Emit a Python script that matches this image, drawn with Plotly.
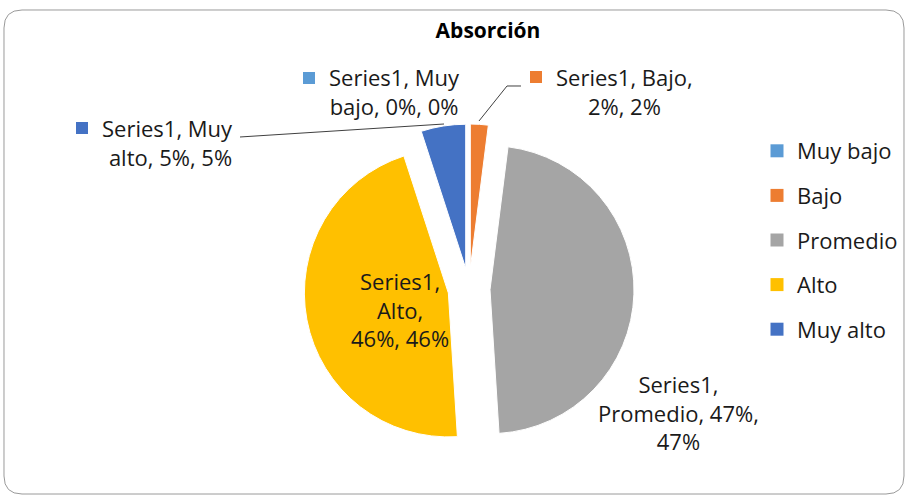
import plotly.graph_objects as go

categories = ["Muy bajo", "Bajo", "Promedio", "Alto", "Muy alto"]
values = [0, 2, 47, 46, 5]
colors = ["#5B9BD5", "#ED7D31", "#A5A5A5", "#FFC000", "#4472C4"]
series_name = "Series1"
chart_title = "Absorción"

W, H = 907, 498
FONT = "Open Sans"
TXT = "#1a1a1a"
FS = 22


def px(x):
    return x / W


def py(y):
    return 1 - y / H


total = sum(values)
pct = [round(v / total * 100) for v in values]

fig = go.Figure()
fig.add_trace(go.Pie(
    labels=categories, values=values,
    marker=dict(colors=colors, line=dict(color="white", width=1)),
    sort=False, direction="clockwise", rotation=0,
    pull=[0.146] * len(values), textinfo="none",
    hoverinfo="label+percent", showlegend=False,
    domain=dict(x=[px(304), px(634)], y=[py(454), py(124)]),
))

# legend via proxy traces (to control spacing)
for c, col in zip(categories, colors):
    fig.add_trace(go.Scatter(
        x=[None], y=[None], mode="markers", name=c, legendgroup=c,
        marker=dict(symbol="square", size=13, color=col),
    ))

s = series_name
labels_txt = [
    f"{s}, Muy<br>bajo, {values[0]}%, {pct[0]}%",
    f"{s}, Bajo,<br>{values[1]}%, {pct[1]}%",
    f"{s},<br>Promedio, {values[2]}%,<br>{pct[2]}%",
    f"{s},<br>Alto,<br>{values[3]}%, {pct[3]}%",
    f"{s}, Muy<br>alto, {values[4]}%, {pct[4]}%",
]
label_pos = [  # (x, y, xanchor, align)
    (394, 92, "center", "center"),
    (624, 92, "center", "center"),
    (678, 412, "center", "center"),
    (400, 309, "center", "center"),
    (235, 142, "right", "right"),
]
annotations = []
for t, (x, y, xa, al) in zip(labels_txt, label_pos):
    annotations.append(dict(
        x=px(x), y=py(y), xref="paper", yref="paper", text=t, showarrow=False,
        xanchor=xa, yanchor="middle", align=al,
        font=dict(family=FONT, size=FS, color=TXT),
    ))

# legend key squares next to outside labels
key_boxes = [(303, 72, 0), (530, 71, 1), (76, 122, 4)]
shapes = []
for x, y, i in key_boxes:
    shapes.append(dict(type="rect", xref="paper", yref="paper",
                       x0=px(x), x1=px(x + 12), y0=py(y), y1=py(y + 12),
                       fillcolor=colors[i], line=dict(width=0)))

# leader lines
leaders = [
    [(521, 86), (507, 86), (479, 121)],
    [(240, 137), (444, 124)],
]
for pts in leaders:
    d = "M " + " L ".join(f"{px(a):.5f},{py(b):.5f}" for a, b in pts)
    shapes.append(dict(type="path", xref="paper", yref="paper", path=d,
                       line=dict(color="#404040", width=1)))

# rounded chart border
x0, y0, x1, y1, r = 4, 10, 904, 494, 18
def P(a, b):
    return f"{px(a):.5f},{py(b):.5f}"
border = (f"M {P(x0 + r, y0)} L {P(x1 - r, y0)} Q {P(x1, y0)} {P(x1, y0 + r)} "
          f"L {P(x1, y1 - r)} Q {P(x1, y1)} {P(x1 - r, y1)} L {P(x0 + r, y1)} "
          f"Q {P(x0, y1)} {P(x0, y1 - r)} L {P(x0, y0 + r)} Q {P(x0, y0)} {P(x0 + r, y0)} Z")
shapes.append(dict(type="path", xref="paper", yref="paper", path=border,
                   line=dict(color="#9a9a9a", width=1), layer="below"))

fig.update_layout(
    width=W, height=H,
    margin=dict(l=0, r=0, t=0, b=0),
    paper_bgcolor="white", plot_bgcolor="white",
    title=dict(text=f"<b>{chart_title}</b>", x=px(488), y=py(31),
               xanchor="center", yanchor="middle",
               font=dict(family=FONT, size=21, color="#000000")),
    xaxis=dict(visible=False), yaxis=dict(visible=False),
    legend=dict(x=px(757), y=py(130), xanchor="left", yanchor="top",
                font=dict(family=FONT, size=FS, color=TXT),
                tracegroupgap=13, bgcolor="rgba(0,0,0,0)"),
    annotations=annotations, shapes=shapes,
    showlegend=True,
)

fig.write_html("out.html", config={"displayModeBar": False},
               post_script="document.body.style.margin='0';document.body.style.overflow='hidden';")
